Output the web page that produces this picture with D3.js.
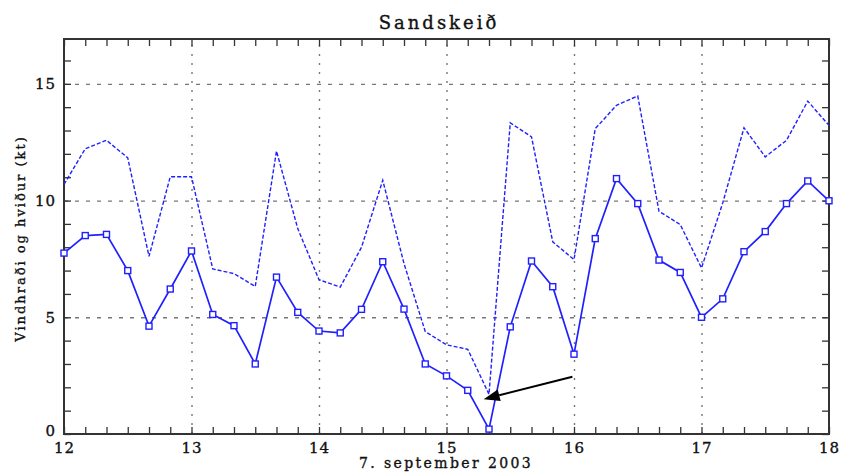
<!DOCTYPE html>
<html>
<head>
<meta charset="utf-8">
<script src="https://cdn.jsdelivr.net/npm/d3@7"></script>
<style>
  body { margin: 0; background: #fff; }
  svg { display: block; }
  text { font-family: "DejaVu Serif", serif; fill: #111; stroke: #111; stroke-width: 0.35px; }
</style>
</head>
<body>
<svg id="chart" width="841" height="472"></svg>
<script>
// hours from the start of the axis (day 12, 00:00), one value every 4 hours
const hours = [0, 4, 8, 12, 16, 20, 24, 28, 32, 36, 40, 44, 48, 52, 56, 60, 64, 68,
  72, 76, 80, 84, 88, 92, 96, 100, 104, 108, 112, 116, 120, 124, 128, 132, 136, 140, 144];

// mean wind (kt)
const windSpeed = [7.75, 8.5, 8.55, 7.0, 4.62, 6.21, 7.84, 5.12, 4.64, 3.0, 6.72, 5.21,
  4.41, 4.33, 5.34, 7.38, 5.35, 3.0, 2.49, 1.87, 0.21, 4.59, 7.41, 6.31, 3.42, 8.37,
  10.94, 9.87, 7.45, 6.92, 5.0, 5.79, 7.81, 8.67, 9.87, 10.84, 9.99];

// gusts (kt)
const gusts = [10.69, 12.22, 12.58, 11.83, 7.61, 11.02, 11.02, 7.07, 6.87, 6.32, 12.12, 8.8,
  6.61, 6.29, 8.0, 10.87, 7.3, 4.39, 3.82, 3.63, 1.7, 13.33, 12.73, 8.23, 7.47, 13.08,
  14.08, 14.48, 9.54, 8.97, 7.11, 9.9, 13.12, 11.87, 12.58, 14.26, 13.22];

const xTickLabels = ["12", "13", "14", "15", "16", "17", "18"];
const yTickLabels = ["0", "5", "10", "15"];

// arrow pointing at the minimum, in data units [hour, kt]
const arrowFrom = [95.7, 2.45];
const arrowTo = [79.0, 1.49];

const mLeft = 64, mRight = 829, mTop = 39, mBottom = 434;
const svg = d3.select("#chart");
const blue = "#2020ff";

const x = d3.scaleLinear().domain([0, 144]).range([mLeft, mRight]);
const y = d3.scaleLinear().domain([0, 16.92]).range([mBottom, mTop]);

const majorX = xTickLabels.map((d, i) => i * 24);
const minorX = hours;
const majorY = yTickLabels.map(d => +d);
const minorY = d3.range(0, 17);

// grid
svg.append("g")
    .attr("transform", `translate(0,${mBottom})`)
    .call(d3.axisBottom(x).tickValues(majorX.slice(1, -1)).tickSize(-(mBottom - mTop)).tickFormat(""))
    .call(g => g.select(".domain").remove())
    .selectAll("line")
    .attr("stroke", "#777")
    .attr("stroke-width", 1.4)
    .attr("stroke-dasharray", "2,7");

svg.append("g")
    .attr("transform", `translate(${mLeft},0)`)
    .call(d3.axisLeft(y).tickValues(majorY.slice(1)).tickSize(-(mRight - mLeft)).tickFormat(""))
    .call(g => g.select(".domain").remove())
    .selectAll("line")
    .attr("stroke", "#777")
    .attr("stroke-width", 1.3)
    .attr("stroke-dasharray", "4,7");

// inward ticks
function tickStyle(g) {
    g.select(".domain").remove();
    g.selectAll("line").attr("stroke", "#333").attr("stroke-width", 1.3);
}
svg.append("g").attr("transform", `translate(0,${mBottom})`)
    .call(d3.axisBottom(x).tickValues(minorX).tickSize(-7).tickFormat("")).call(tickStyle);
svg.append("g").attr("transform", `translate(0,${mTop})`)
    .call(d3.axisTop(x).tickValues(minorX).tickSize(-7).tickFormat("")).call(tickStyle);
svg.append("g").attr("transform", `translate(${mLeft},0)`)
    .call(d3.axisLeft(y).tickValues(minorY).tickSize(-7).tickFormat("")).call(tickStyle);
svg.append("g").attr("transform", `translate(${mRight},0)`)
    .call(d3.axisRight(y).tickValues(minorY).tickSize(-7).tickFormat("")).call(tickStyle);

// tick labels
svg.append("g")
    .attr("transform", `translate(0,${mBottom})`)
    .call(d3.axisBottom(x).tickValues(majorX).tickSize(0).tickPadding(8)
        .tickFormat((d, i) => xTickLabels[i]))
    .call(g => g.select(".domain").remove())
    .selectAll("text")
    .attr("font-size", 15)
    .attr("letter-spacing", 1)
    .attr("font-family", "DejaVu Serif")
    .attr("fill", "#111");

svg.append("g")
    .attr("transform", `translate(${mLeft},0)`)
    .call(d3.axisLeft(y).tickValues(majorY).tickSize(0).tickPadding(8)
        .tickFormat((d, i) => yTickLabels[i]))
    .call(g => g.select(".domain").remove())
    .call(g => g.selectAll(".tick").filter(d => d === 0).select("text").attr("dy", "0.1em"))
    .selectAll("text")
    .attr("font-size", 15)
    .attr("letter-spacing", 1)
    .attr("font-family", "DejaVu Serif")
    .attr("fill", "#111");

// frame
svg.append("rect")
    .attr("x", mLeft).attr("y", mTop)
    .attr("width", mRight - mLeft).attr("height", mBottom - mTop)
    .attr("fill", "none").attr("stroke", "#333").attr("stroke-width", 2);

// gust line (dashed)
const line = d3.line().x((d, i) => x(hours[i])).y(d => y(d));
svg.append("path")
    .datum(gusts)
    .attr("fill", "none")
    .attr("stroke", blue)
    .attr("stroke-width", 1.4)
    .attr("stroke-dasharray", "4,2")
    .attr("d", line);

// mean wind line
svg.append("path")
    .datum(windSpeed)
    .attr("fill", "none")
    .attr("stroke", blue)
    .attr("stroke-width", 1.7)
    .attr("d", line);

svg.append("g")
    .selectAll("rect")
    .data(windSpeed)
    .join("rect")
    .attr("x", (d, i) => x(hours[i]) - 3)
    .attr("y", d => y(d) - 3)
    .attr("width", 6)
    .attr("height", 6)
    .attr("fill", "#fff")
    .attr("stroke", blue)
    .attr("stroke-width", 1.4);

// arrow
const ax0 = x(arrowFrom[0]), ay0 = y(arrowFrom[1]);
const ax1 = x(arrowTo[0]), ay1 = y(arrowTo[1]);
const ang = Math.atan2(ay1 - ay0, ax1 - ax0);
const headLen = 16, headW = 6;
const bx = ax1 - headLen * Math.cos(ang), by = ay1 - headLen * Math.sin(ang);
svg.append("line")
    .attr("x1", ax0).attr("y1", ay0).attr("x2", bx).attr("y2", by)
    .attr("stroke", "#000").attr("stroke-width", 2);
svg.append("path")
    .attr("d", `M${ax1},${ay1}L${bx + headW * Math.sin(ang)},${by - headW * Math.cos(ang)}` +
        `L${bx - headW * Math.sin(ang)},${by + headW * Math.cos(ang)}Z`)
    .attr("fill", "#000");

// titles
svg.append("text")
    .attr("x", 439).attr("y", 29)
    .attr("text-anchor", "middle")
    .attr("font-size", 18)
    .attr("letter-spacing", 3)
    .text("Sandskeið");

svg.append("text")
    .attr("x", 446).attr("y", 468)
    .attr("text-anchor", "middle")
    .attr("font-size", 14)
    .attr("letter-spacing", 2.4)
    .text("7. september 2003");

svg.append("text")
    .attr("transform", `translate(25,${(mTop + mBottom) / 2 + 2}) rotate(-90)`)
    .attr("text-anchor", "middle")
    .attr("font-size", 13)
    .attr("letter-spacing", 2)
    .text("Vindhraði og hviður (kt)");
</script>
</body>
</html>
